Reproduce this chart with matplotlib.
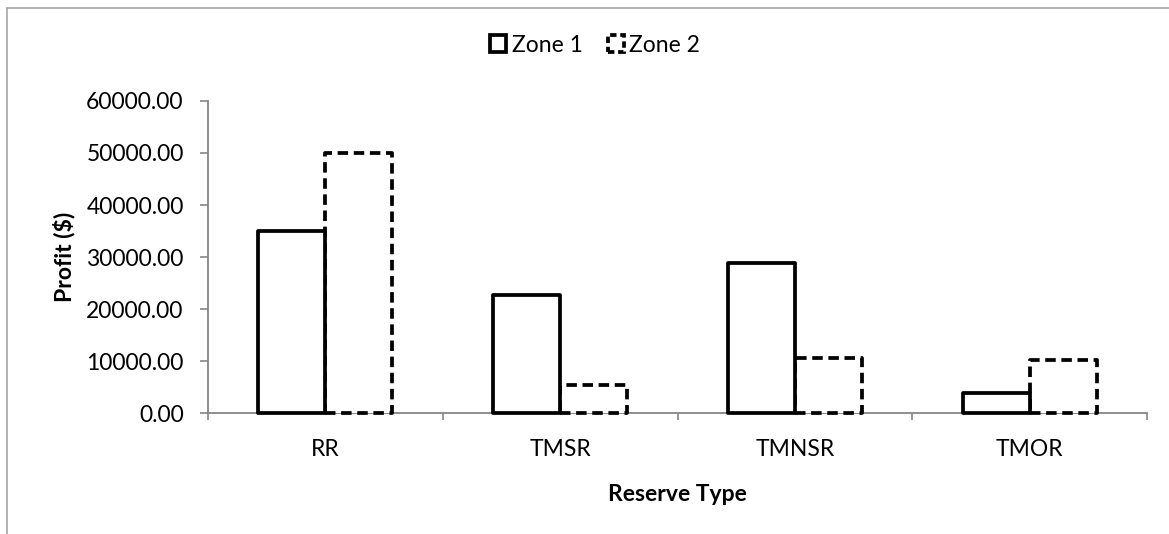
import numpy as np
import matplotlib
matplotlib.use("Agg")
import matplotlib.pyplot as plt
from matplotlib.patches import Patch
from matplotlib.lines import Line2D

plt.rcParams['font.family'] = ['Lato', 'DejaVu Sans']

reserve_types = ['RR', 'TMSR', 'TMNSR', 'TMOR']
zone1 = [35000, 22600, 28800, 3900]
zone2 = [50000, 5300, 10500, 10100]
yticks = [0, 10000, 20000, 30000, 40000, 50000, 60000]

axis_grey = '#868686'
dash = (0, (2.8, 1.5))
lw = 2.7
fs = 16.5

fig = plt.figure(figsize=(11.69, 5.34), dpi=100)
ax = fig.add_axes([208 / 1169, 1 - 413 / 534, 939 / 1169, 312 / 534])

x = np.arange(len(reserve_types))
width = 0.285

bars2 = ax.bar(x + width / 2, zone2, width, facecolor='white', edgecolor='black',
               linewidth=lw, linestyle=dash, zorder=3, label='Zone 2')
bars1 = ax.bar(x - width / 2, zone1, width, facecolor='white', edgecolor='black',
               linewidth=lw, zorder=4, label='Zone 1')
for b in list(bars1) + list(bars2):
    b.set_clip_on(False)
    b.set_joinstyle('round')

ax.set_xlim(-0.5, len(reserve_types) - 0.5)
ax.set_ylim(0, 60000)
ax.set_yticks(yticks)
ax.set_yticklabels(['%.2f' % v for v in yticks])

# category boundaries get the ticks, names sit in between
ax.set_xticks(np.arange(len(reserve_types) + 1) - 0.5)
ax.set_xticklabels([])
ax.set_xticks(x, minor=True)
ax.set_xticklabels(reserve_types, minor=True)
ax.tick_params(axis='x', which='minor', length=0, pad=19, labelsize=fs)
ax.tick_params(axis='x', which='major', length=5, width=1.2, color=axis_grey)
ax.tick_params(axis='y', length=5.5, width=1.2, color=axis_grey, pad=12, labelsize=fs)

for side in ['top', 'right']:
    ax.spines[side].set_visible(False)
for side in ['left', 'bottom']:
    ax.spines[side].set_color(axis_grey)
    ax.spines[side].set_linewidth(1.3)
    ax.spines[side].set_zorder(2)

ax.set_ylabel('Profit ($)', fontsize=fs, fontweight='bold', labelpad=8)
ax.set_xlabel('Reserve Type', fontsize=fs, fontweight='bold', labelpad=17)

handles = [Patch(facecolor='white', edgecolor='black', linewidth=lw),
           Patch(facecolor='white', edgecolor='black', linewidth=lw, linestyle=(0, (1.7, 1.0)))]
fig.legend(handles, ['Zone 1', 'Zone 2'], loc='center', bbox_to_anchor=(595 / 1169, 1 - 45 / 534),
           ncol=2, frameon=False, fontsize=fs, handlelength=0.7, handleheight=0.7,
           handletextpad=0.25, columnspacing=1.1)

# chart area border
fig.add_artist(Line2D([7 / 1169, 7 / 1169], [0, 1 - 8 / 534], transform=fig.transFigure,
                      color='#a6a6a6', linewidth=1.2))
fig.add_artist(Line2D([7 / 1169, 1], [1 - 8 / 534, 1 - 8 / 534], transform=fig.transFigure,
                      color='#a6a6a6', linewidth=1.2))

fig.savefig('out.png', dpi=100)
